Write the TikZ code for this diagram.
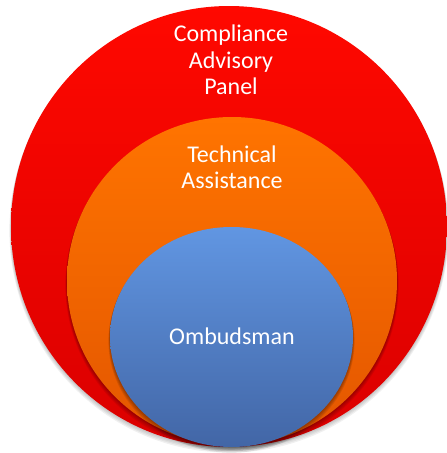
\documentclass[tikz,border=0pt]{standalone}
\usepackage{fontspec}
\setmainfont{Carlito}
\usetikzlibrary{shapes.geometric}
\definecolor{redtop}{HTML}{FF0800}
\definecolor{redbot}{HTML}{DA0000}
\definecolor{orgtop}{HTML}{FF7400}
\definecolor{orgbot}{HTML}{E35600}
\definecolor{blutop}{HTML}{6196E2}
\definecolor{blubot}{HTML}{4266A6}
\tikzset{
  disc/.style={ellipse, inner sep=0pt, outer sep=0pt, draw=none},
  lbl/.style={text=white, align=center, font=\fontsize{24}{26.5}\selectfont, inner sep=0pt},
}
\newcommand{\softshadow}[3]{%
  \foreach \k in {1,...,4}{
    \fill[black, opacity=0.07] (#1,#2+1.2*\k) ellipse[x radius=#3+0.3*\k, y radius=#3+0.3*\k];
  }%
}
\begin{document}
\begin{tikzpicture}[x=1pt,y=-1pt]
\useasboundingbox (0,0) rectangle (447,453);
% red outer
\foreach \k in {1,...,4}{
  \fill[black, opacity=0.06] (229,226.5+1.0*\k) ellipse[x radius=218+0.4*\k, y radius=220.5+0.4*\k];
}
\node[disc, minimum width=436pt, minimum height=441pt, top color=redtop, bottom color=redbot] (red) at (229,226.5) {};
% orange
\foreach \k in {1,...,4}{
  \fill[black, opacity=0.08] (232,281+1.0*\k) ellipse[x radius=165+0.4*\k, y radius=164+0.4*\k];
}
\node[disc, minimum width=330pt, minimum height=328pt, top color=orgtop, bottom color=orgbot] (org) at (232,281) {};
% blue
\foreach \k in {1,...,4}{
  \fill[black, opacity=0.09] (231.5,337+1.0*\k) ellipse[x radius=121.5+0.4*\k, y radius=110+0.4*\k];
}
\node[disc, minimum width=243pt, minimum height=220pt, top color=blutop, bottom color=blubot] (blu) at (231.5,337) {};
% labels
\node[lbl] (t1) at (231,60) {Compliance\\Advisory\\Panel};
\node[lbl] (t2) at (232,167.5) {Technical\\Assistance};
\node[lbl] (t3) at (232,336) {Ombudsman};
\end{tikzpicture}
\end{document}
